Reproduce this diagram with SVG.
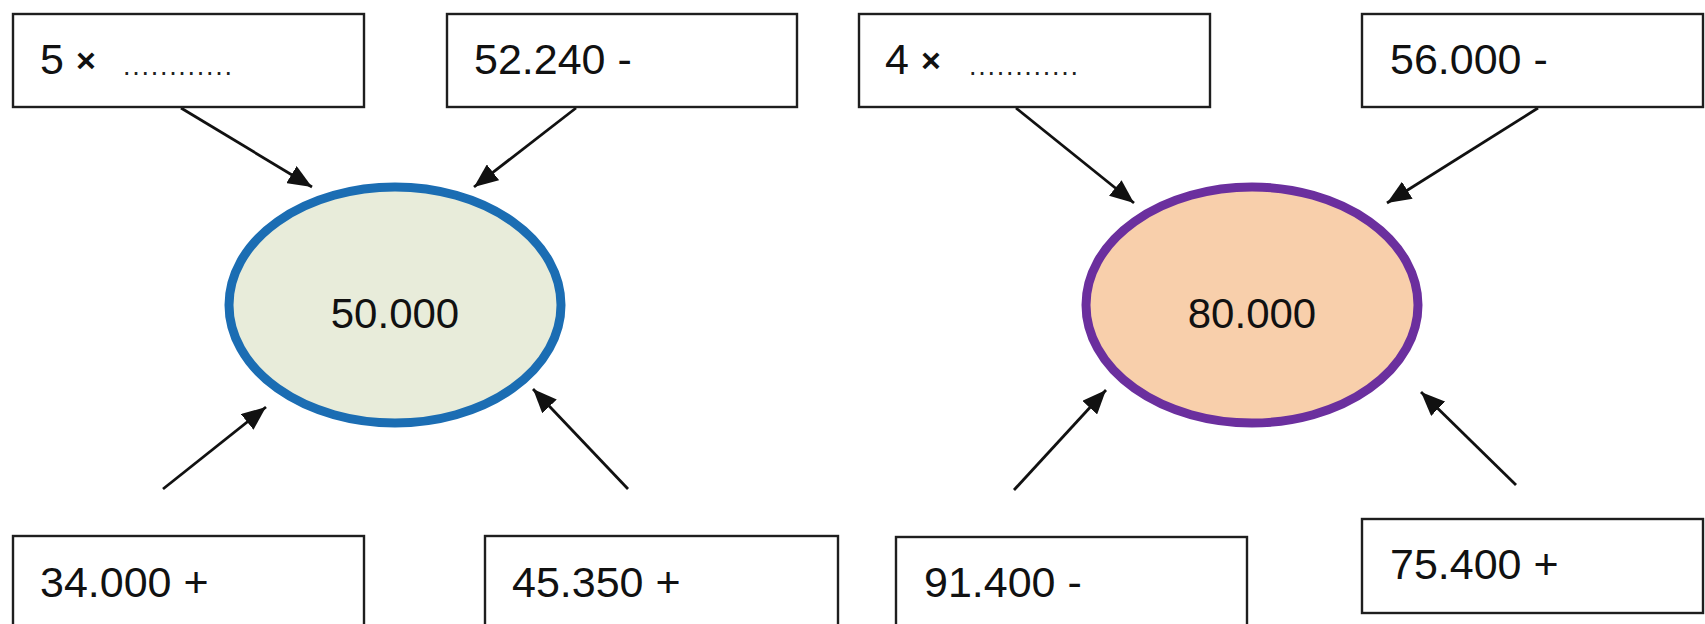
<svg xmlns="http://www.w3.org/2000/svg" width="1705" height="624" viewBox="0 0 1705 624">
<style>
.box{fill:#fff;stroke:#1e1e1e;stroke-width:2.4}
.t{font-family:"Liberation Sans",Arial,sans-serif;font-size:43px;fill:#111}
.x{font-family:"Liberation Sans",Arial,sans-serif;font-size:34px;font-weight:bold;fill:#111}
.dots{font-family:"Liberation Sans",Arial,sans-serif;font-size:27px;fill:#222}
.c{font-family:"Liberation Sans",Arial,sans-serif;font-size:42px;fill:#111;text-anchor:middle}
.arr{stroke:#111;stroke-width:2.8;fill:none;marker-end:url(#ah)}
</style>
<defs>
<marker id="ah" markerUnits="userSpaceOnUse" viewBox="0 0 24 20" markerWidth="24" markerHeight="20" refX="24" refY="10" orient="auto">
<path d="M0,0 L24,10 L0,20 Z" fill="#111"/>
</marker>
</defs>
<rect width="1705" height="624" fill="#fff"/>
<g id="connectors">
<line class="arr" x1="181" y1="108" x2="312" y2="187"/>
<line class="arr" x1="576" y1="108" x2="474" y2="187"/>
<line class="arr" x1="163" y1="489" x2="266" y2="407"/>
<line class="arr" x1="628" y1="489" x2="533" y2="389"/>
<line class="arr" x1="1016" y1="108" x2="1134" y2="203"/>
<line class="arr" x1="1538" y1="108" x2="1387" y2="203"/>
<line class="arr" x1="1014" y1="490" x2="1106" y2="390"/>
<line class="arr" x1="1516" y1="485" x2="1421" y2="392"/>
</g>
<g id="ellipse-left">
<ellipse cx="395" cy="305" rx="166" ry="118" fill="#e8ecda" stroke="#1b6db3" stroke-width="9"/>
<text class="c" x="395" y="328">50.000</text>
</g>
<g id="ellipse-right">
<ellipse cx="1252" cy="305" rx="166" ry="118" fill="#f8cfab" stroke="#6b2f9e" stroke-width="9"/>
<text class="c" x="1252" y="328">80.000</text>
</g>
<g id="box-5x">
<rect class="box" x="13" y="14" width="351" height="93"/>
<text class="t" x="40" y="74">5</text>
<text class="x" x="76" y="72">×</text>
<text class="dots" x="123" y="75" textLength="109" lengthAdjust="spacing">............</text>
</g>
<g id="box-52240">
<rect class="box" x="447" y="14" width="350" height="93"/>
<text class="t" x="474" y="74">52.240 -</text>
</g>
<g id="box-4x">
<rect class="box" x="859" y="14" width="351" height="93"/>
<text class="t" x="885" y="74">4</text>
<text class="x" x="921" y="72">×</text>
<text class="dots" x="969" y="75" textLength="109" lengthAdjust="spacing">............</text>
</g>
<g id="box-56000">
<rect class="box" x="1362" y="14" width="341" height="93"/>
<text class="t" x="1390" y="74">56.000 -</text>
</g>
<g id="box-34000">
<rect class="box" x="13" y="536" width="351" height="100"/>
<text class="t" x="40" y="597">34.000 +</text>
</g>
<g id="box-45350">
<rect class="box" x="485" y="536" width="353" height="100"/>
<text class="t" x="512" y="597">45.350 +</text>
</g>
<g id="box-91400">
<rect class="box" x="896" y="537" width="351" height="100"/>
<text class="t" x="924" y="597">91.400 -</text>
</g>
<g id="box-75400">
<rect class="box" x="1362" y="519" width="341" height="94"/>
<text class="t" x="1390" y="579">75.400 +</text>
</g>
</svg>
